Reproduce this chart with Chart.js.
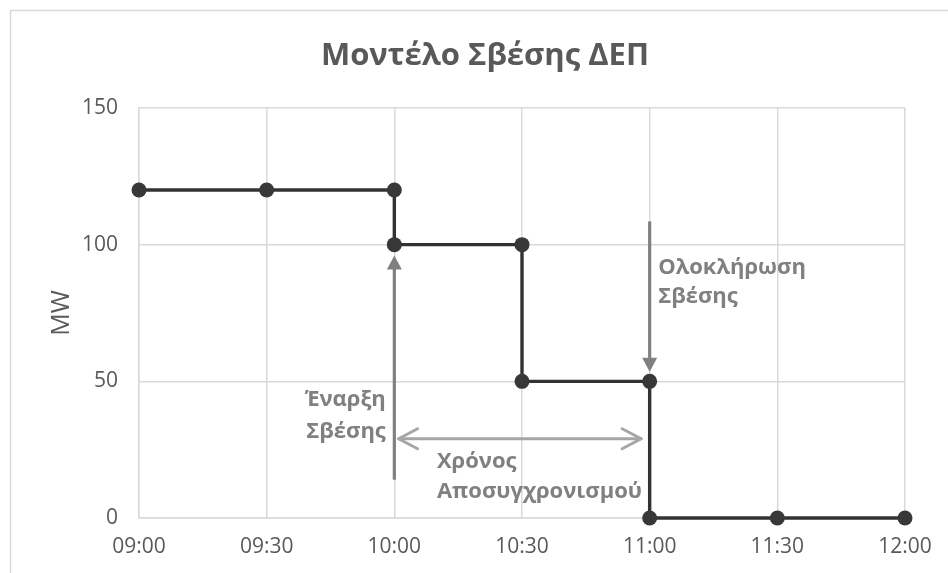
<!DOCTYPE html>
<html>
<head>
<meta charset="utf-8">
<script src="https://cdn.jsdelivr.net/npm/chart.js@4.4.0/dist/chart.umd.min.js"></script>
<style>
html,body{margin:0;padding:0;background:#fff;}
#wrap{width:948px;height:573px;}
</style>
</head>
<body>
<div id="wrap"><canvas id="c" width="948" height="573"></canvas></div>
<script>
// ---- data ----
const chartTitle = 'Μοντέλο Σβέσης ΔΕΠ';
const yAxisTitle = 'MW';
const times = ['09:00','09:30','10:00','10:00','10:30','10:30','11:00','11:00','11:30','12:00'];
const mw    = [120, 120, 120, 100, 100, 50, 50, 0, 0, 0];
const xTickLabels = ['09:00','09:30','10:00','10:30','11:00','11:30','12:00'];
const yTickLabels = [0, 50, 100, 150];

// annotations (data coordinates: time, MW)
const startArrow = { time: '10:00', from: 14, to: 96 };
const endArrow   = { time: '11:00', from: 108.5, to: 53.5 };
const spanArrow  = { fromTime: '10:01', toTime: '10:58', mw: 29 };
const startText  = { time: '09:58', lines: ['Έναρξη', 'Σβέσης'], mw: [43.2, 31.6] };
const spanText   = { time: '10:10', lines: ['Χρόνος', 'Αποσυγχρονισμού'], mw: [20.5, 9.5] };
const endText    = { time: '11:02', lines: ['Ολοκλήρωση', 'Σβέσης'], mw: [91.6, 81] };

function toMin(t){ const [h,m] = t.split(':').map(Number); return (h - 9) * 60 + m; }
function fmt(v){ const h = 9 + Math.floor(v / 60), m = v % 60; return String(h).padStart(2,'0') + ':' + String(m).padStart(2,'0'); }

const points = times.map((t, i) => ({ x: toMin(t), y: mw[i] }));
const xTickVals = xTickLabels.map(toMin);

const FONT = "'Open Sans', 'Noto Sans', sans-serif";

const overlay = {
  id: 'overlay',
  beforeDraw(chart) {
    const ctx = chart.ctx;
    ctx.save();
    ctx.strokeStyle = '#d9d9d9';
    ctx.lineWidth = 1.5;
    ctx.strokeRect(10.5, 10.5, 960, 600);
    ctx.fillStyle = '#595959';
    ctx.font = "bold 31px " + FONT;
    ctx.textAlign = 'center';
    ctx.textBaseline = 'middle';
    ctx.fillText(chartTitle, 485, 56);
    ctx.restore();
  },
  afterDatasetsDraw(chart) {
    const ctx = chart.ctx, xs = chart.scales.x, ys = chart.scales.y;
    const X = t => xs.getPixelForValue(toMin(t));
    const Y = v => ys.getPixelForValue(v);
    ctx.save();
    function vArrow(a, up) {
      const x = X(a.time), y0 = Y(a.from), y1 = Y(a.to);
      const dir = up ? 1 : -1;
      ctx.strokeStyle = '#808080'; ctx.fillStyle = '#808080';
      ctx.lineWidth = 3.2;
      ctx.beginPath(); ctx.moveTo(x, y0); ctx.lineTo(x, y1 + dir * 10); ctx.stroke();
      ctx.beginPath();
      ctx.moveTo(x, y1);
      ctx.lineTo(x - 7.5, y1 + dir * 14);
      ctx.lineTo(x + 7.5, y1 + dir * 14);
      ctx.closePath(); ctx.fill();
    }
    vArrow(startArrow, true);
    vArrow(endArrow, false);
    const hx0 = X(spanArrow.fromTime), hx1 = X(spanArrow.toTime), hy = Y(spanArrow.mw);
    ctx.strokeStyle = '#a6a6a6'; ctx.lineWidth = 3;
    ctx.lineCap = 'round'; ctx.lineJoin = 'round';
    ctx.beginPath(); ctx.moveTo(hx0, hy); ctx.lineTo(hx1, hy); ctx.stroke();
    ctx.beginPath();
    ctx.moveTo(hx0 + 19, hy - 10); ctx.lineTo(hx0, hy); ctx.lineTo(hx0 + 19, hy + 10);
    ctx.moveTo(hx1 - 19, hy - 10); ctx.lineTo(hx1, hy); ctx.lineTo(hx1 - 19, hy + 10);
    ctx.stroke();
    ctx.fillStyle = '#808080';
    ctx.font = "bold 22px " + FONT;
    ctx.textBaseline = 'middle';
    function txt(o, align) {
      ctx.textAlign = align;
      o.lines.forEach((l, i) => ctx.fillText(l, X(o.time), Y(o.mw[i])));
    }
    txt(startText, 'right');
    txt(spanText, 'left');
    txt(endText, 'left');
    ctx.restore();
  }
};

new Chart(document.getElementById('c'), {
  type: 'line',
  data: {
    datasets: [{
      data: points,
      borderColor: '#333333',
      borderWidth: 3.4,
      backgroundColor: '#383838',
      pointBackgroundColor: '#383838',
      pointBorderColor: '#383838',
      pointRadius: 7.5,
      pointBorderWidth: 0,
      tension: 0,
      fill: false,
      clip: false
    }]
  },
  options: {
    responsive: false,
    animation: false,
    devicePixelRatio: 1,
    layout: { padding: { left: 0, right: 43, top: 108, bottom: 0 } },
    plugins: { legend: { display: false }, title: { display: false }, tooltip: { enabled: false } },
    scales: {
      x: {
        type: 'linear',
        min: xTickVals[0],
        max: xTickVals[xTickVals.length - 1],
        afterBuildTicks: s => { s.ticks = xTickVals.map(v => ({ value: v })); },
        afterFit: s => { s.height = 55; },
        grid: { color: '#d9d9d9', lineWidth: 1.5, drawTicks: false },
        border: { color: '#d9d9d9', width: 1.5 },
        ticks: {
          padding: 16,
          color: '#595959',
          font: { family: FONT, size: 21 },
          maxRotation: 0,
          callback: v => fmt(v)
        }
      },
      y: {
        min: yTickLabels[0],
        max: yTickLabels[yTickLabels.length - 1],
        afterBuildTicks: s => { s.ticks = yTickLabels.map(v => ({ value: v })); },
        afterFit: s => { s.width = 139; },
        grid: { color: '#d9d9d9', lineWidth: 1.5, drawTicks: false },
        border: { color: '#d9d9d9', width: 1.5 },
        title: { display: true, text: yAxisTitle, color: '#595959', font: { family: FONT, size: 25 }, padding: { top: 47, bottom: 0 } },
        ticks: {
          padding: 21,
          color: '#595959',
          font: { family: FONT, size: 21 }
        }
      }
    }
  },
  plugins: [overlay]
});
</script>
</body>
</html>
